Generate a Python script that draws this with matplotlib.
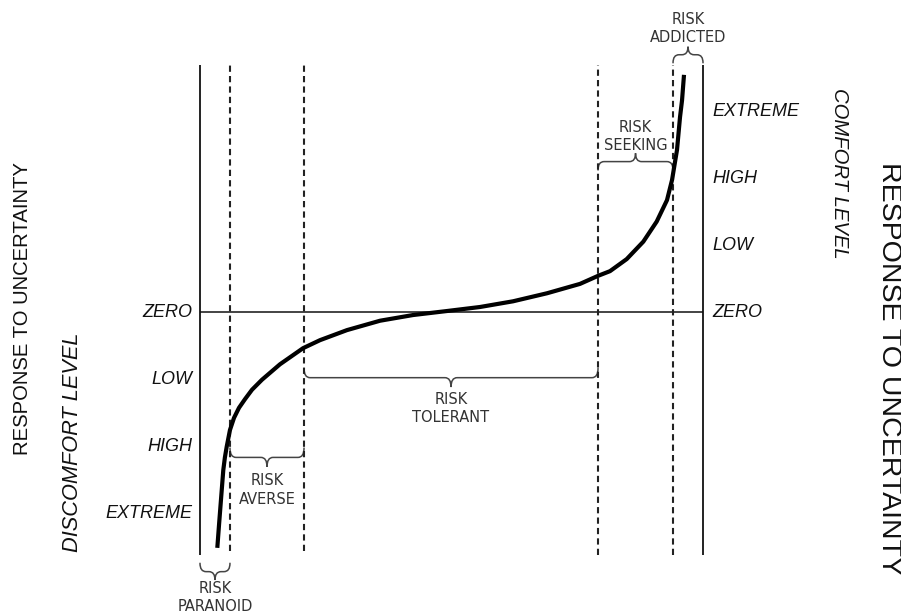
"""Risk attitude diagram: response to uncertainty vs comfort / discomfort level."""
import matplotlib
matplotlib.use("Agg")
import matplotlib.pyplot as plt
from matplotlib.path import Path
from matplotlib.patches import PathPatch

# attitude axis runs 0..100 between the two solid frame lines,
# vertical axis is the comfort level (+) / discomfort level (-)
zone_edges = [5.96, 20.68, 79.13, 94.04]
zone_bottom = [-3.57, -3.57, -3.63, -3.63]
frame_x = [0.0, 100.0]

curve_x = [3.44, 3.78, 4.12, 4.38, 4.63, 4.95, 5.31, 5.96, 6.76, 7.75, 8.95,
           10.34, 12.33, 15.90, 20.48, 23.86, 29.22, 35.79, 42.35,
           49.11, 55.67, 62.23, 68.99, 75.55, 79.13, 81.51, 84.83, 88.13,
           90.79, 92.84, 93.84, 94.83, 95.43, 95.83, 96.22]
curve_y = [-3.52, -3.18, -2.85, -2.60, -2.36, -2.17, -2.01, -1.76, -1.58,
           -1.43, -1.30, -1.16, -1.01, -0.78, -0.54, -0.42, -0.27,
           -0.13, -0.045, 0.015, 0.075, 0.16, 0.28, 0.42, 0.54, 0.61, 0.79,
           1.05, 1.35, 1.67, 1.97, 2.42, 2.91, 3.16, 3.54]

left_levels = [0, -1, -2, -3]
left_names = ["ZERO", "LOW", "HIGH", "EXTREME"]
right_levels = [3, 2, 1, 0]
right_names = ["EXTREME", "HIGH", "LOW", "ZERO"]

zone_names = ["RISK\nPARANOID", "RISK\nAVERSE", "RISK\nTOLERANT",
              "RISK\nSEEKING", "RISK\nADDICTED"]
zone_lo = [0.0, 5.96, 20.68, 79.13, 94.04]
zone_hi = [5.96, 20.68, 79.13, 94.04, 100.0]
brace_y = [-3.75, -2.03, -0.84, 2.12, 3.72]
brace_h = [-0.25, -0.28, -0.28, 0.25, 0.24]
label_y = [-4.26, -2.66, -1.44, 2.62, 4.23]


def brace(ax, x0, x1, y, h, r=1.2):
    xm = (x0 + x1) / 2
    yh = y + h / 2
    yt = y + h
    verts = [(x0, y), (x0, yh), (x0 + r, yh), (xm - r, yh), (xm, yh), (xm, yt),
             (xm, yh), (xm + r, yh), (x1 - r, yh), (x1, yh), (x1, y)]
    codes = [Path.MOVETO, Path.CURVE3, Path.CURVE3, Path.LINETO, Path.CURVE3,
             Path.CURVE3, Path.CURVE3, Path.CURVE3, Path.LINETO, Path.CURVE3,
             Path.CURVE3]
    ax.add_patch(PathPatch(Path(verts, codes), fill=False, lw=1.1,
                           edgecolor="#444444", capstyle="round"))


fig = plt.figure(figsize=(9.01, 6.16), dpi=100)
ax = fig.add_axes([0, 0, 1, 1])
ax.set_xlim(-39.76, 139.36)
ax.set_ylim(-4.537, 4.657)
ax.axis("off")

# frame and zero line
ax.vlines(frame_x, -3.63, 3.69, color="#111111", lw=1.3)
ax.hlines(0, frame_x[0], frame_x[1], color="#111111", lw=1.1)
ax.vlines(zone_edges, zone_bottom, 3.69, color="#222222", lw=1.5,
          linestyles=(0, (3, 2)))

ax.plot(curve_x, curve_y, color="black", lw=3.0, solid_capstyle="butt",
        solid_joinstyle="round")

lvl_font = dict(family=["Liberation Sans", "DejaVu Sans"], style="italic",
                fontsize=13, color="#111111")
for lv, nm in zip(left_levels, left_names):
    ax.text(-1.6, lv, nm, ha="right", va="center", **lvl_font)
for lv, nm in zip(right_levels, right_names):
    ax.text(101.8, lv, nm, ha="left", va="center", **lvl_font)

for nm, lo, hi, by, bh, ly in zip(zone_names, zone_lo, zone_hi, brace_y,
                                  brace_h, label_y):
    brace(ax, lo, hi, by, bh)
    ax.text((lo + hi) / 2, ly, nm, ha="center", va="center", fontsize=10.5,
            family="DejaVu Sans", color="#333333", linespacing=1.3,
            multialignment="center")

sans = ["Liberation Sans", "DejaVu Sans"]
ax.text(-35.2, 0.05, "RESPONSE TO UNCERTAINTY", rotation=90, ha="center",
        va="center", fontsize=14.6, family=sans, color="#111111")
ax.text(-25.4, -1.95, "DISCOMFORT LEVEL", rotation=90, ha="center",
        va="center", fontsize=15.7, family=sans, style="italic",
        color="#111111")
ax.text(127.2, 2.07, "COMFORT LEVEL", rotation=-90, ha="center",
        va="center", fontsize=14.6, family=sans, style="italic",
        color="#111111")
ax.text(137.0, -0.85, "RESPONSE TO UNCERTAINTY", rotation=-90, ha="center",
        va="center", fontsize=20.5, family=sans, color="#111111")

fig.savefig("out.png", dpi=100)
plt.close(fig)
